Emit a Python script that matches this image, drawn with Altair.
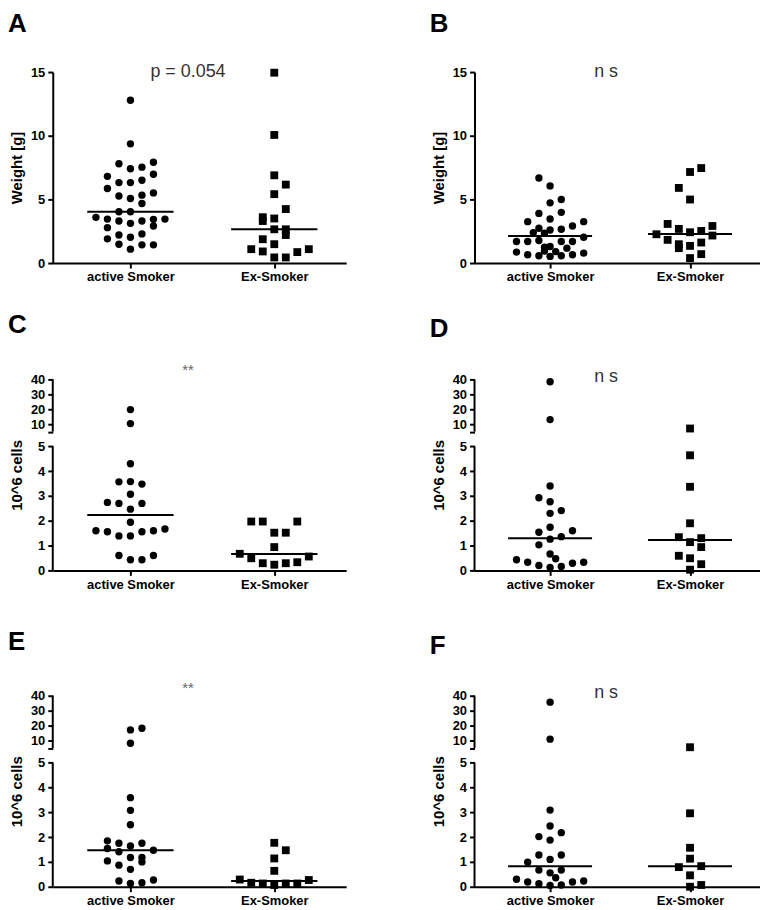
import altair as alt
import pandas as pd

# ---------------- data (slot = horizontal dot-plot column, value = y) ----------------
A_ACT_SLOT = [0, 0, -1, 0, 1, 2, -2, 2, -1, 0, 1, -2, -1, 0, 1, 2, 1, -1, 0, -3, -2, -1, 0, 1, 2, 3, -2, 2, -1, 0, 1, -2, -1, 1, 2, 0]
A_ACT_VAL = [12.79, 9.36, 7.8, 7.41, 7.53, 7.92, 6.81, 6.97, 6.32, 6.32, 6.5, 5.85, 5.27, 5.07, 5.33, 5.51, 4.68, 4.03, 4.03,
             3.59, 3.45, 3.30, 3.12, 3.30, 3.43, 3.45, 2.78, 2.91, 2.2, 2.03, 2.29, 1.9, 1.48, 1.43, 1.43, 1.09]
A_EX_SLOT = [0, 0, 0, 1, 0, 1, -1, -1, 0, 0, 1, 1, -1, 0, -2, -1, 2, 3, 0, 1]
A_EX_VAL = [14.95, 10.06, 6.89, 6.16, 5.41, 4.24, 3.6, 3.3, 3.5, 2.65, 2.65, 2.2, 1.87, 1.48, 1.09, 0.91, 0.86, 1.09, 0.44, 0.44]

B_ACT_SLOT = [-1, 0, 0, 1, -1, 1, -2, 0, 2, 3, -1.5, -1, 0, 1, -0.5, -3, -2, -1, 0, 1, 2, 3, -0.5, 1.5,
              -3, -2, -1, 0, 1, 2, 3, 0.5, -0.5]
B_ACT_VAL = [6.68, 6.06, 4.73, 4.99, 3.9, 3.98, 3.25, 3.46, 2.91, 3.25, 2.39, 2.73, 2.6, 2.65, 2.34, 1.69, 1.69, 1.77, 1.3, 1.69, 1.69, 2.03, 1.25, 1.17,
             0.86, 0.65, 0.57, 0.52, 0.57, 0.65, 0.78, 0.9, 0.95]
B_EX_SLOT = [1, 0, -1, 0, -2, -1, -3, 0, 1, 2, 2, -2, -1, -1, 0, 1, 1, 0]
B_EX_VAL = [7.46, 7.15, 5.9, 4.99, 3.07, 2.68, 2.26, 2.42, 2.52, 2.91, 2.16, 1.82, 1.48, 1.17, 1.35, 1.61, 0.7, 0.39]

C_ACT_SLOT = [0, 0, 0, -1, 0, 1, 0, -2, -1, 1, 0, 0, -3, -2, -1, 0, 1, 2, 3, -1, 0, 1, 2]
C_ACT_VAL = [19.8, 10.4, 4.30, 3.57, 3.58, 3.48, 3.07, 2.74, 2.70, 2.70, 2.47, 1.94, 1.6, 1.56, 1.39, 1.39, 1.56, 1.6, 1.67, 0.6, 0.43, 0.43, 0.6]
C_EX_SLOT = [-2, -1, 2, 0, 1, 0, -3, -2, 3, -1, 0, 1, 2]
C_EX_VAL = [1.97, 1.97, 1.97, 1.52, 1.52, 0.94, 0.67, 0.49, 0.56, 0.29, 0.23, 0.29, 0.33]

D_ACT_SLOT = [0, 0, 0, -1, 0, 0, 1, 0, -1, 2, 0, 1, -1, 0, -3, -2, -1, 0, 1, 0.5, 2, 3]
D_ACT_VAL = [38.4, 13.1, 3.40, 2.93, 2.77, 2.30, 2.41, 1.74, 1.54, 1.6, 1.26, 1.36, 1.03, 0.66, 0.43, 0.33, 0.2, 0.12, 0.16, 0.47, 0.29, 0.33]
D_EX_SLOT = [0, 0, 0, 0, -1, 0, 1, 1, -1, 0, 1, 0]
D_EX_VAL = [7.1, 4.64, 3.37, 1.90, 1.34, 1.14, 1.3, 0.94, 0.59, 0.49, 0.25, 0.03]

E_ACT_SLOT = [0, 1, 0, 0, 0, 0, -2, -1, 0, 1, -2, -1, 2, -2, 0, 1, 1, -1, 0, -1, 0, 1, 2]
E_ACT_VAL = [17.1, 18.2, 8.2, 3.59, 3.08, 2.50, 1.85, 1.75, 1.64, 1.75, 1.54, 1.41, 1.47, 1.04, 1.18, 1.18, 1.0, 0.87, 0.70, 0.23, 0.13, 0.16, 0.27]
E_EX_SLOT = [0, 1, 0, 0, -3, -2, -1, 0, 1, 2, 3]
E_EX_VAL = [1.77, 1.47, 1.14, 0.64, 0.29, 0.16, 0.13, 0.07, 0.13, 0.13, 0.27]

F_ACT_SLOT = [0, 0, 0, 0, -1, 1, 0, -1, 0, 1, -2, -1, 0, 1, 0.5, -3, -2, -1, 0, 1, 2, 3]
F_ACT_VAL = [35.7, 10.9, 3.09, 2.45, 2.02, 2.18, 1.88, 1.28, 1.1, 1.28, 0.99, 0.67, 0.56, 0.67, 0.36, 0.30, 0.19, 0.12, 0.05, 0.07, 0.19, 0.23]
F_EX_SLOT = [0, 0, 0, 0, -1, 1, 0, 0, 1]
F_EX_VAL = [5.5, 2.96, 1.57, 1.13, 0.79, 0.83, 0.46, 0.0, 0.07]

MEDIANS = {"A": [4.03, 2.65], "B": [2.13, 2.29], "C": [2.23, 0.66],
           "D": [1.30, 1.23], "E": [1.47, 0.23], "F": [0.83, 0.83]}
ANNOT = {"A": ("p = 0.054", 15.0), "B": ("n s", 15.0), "C": ("**", 46.0),
         "D": ("n s", 41.5), "E": ("**", 45.5), "F": ("n s", 41.5)}
GROUPS = ["active Smoker", "Ex-Smoker"]
Y_TITLES = {"A": "Weight [g]", "B": "Weight [g]", "C": "10^6 cells", "D": "10^6 cells", "E": "10^6 cells", "F": "10^6 cells"}

SLOT_W = 0.08
H = 192
FONT = "Liberation Sans"


def x_enc(field):
    return alt.X(f"{field}:Q",
                 scale=alt.Scale(domain=[0.46, 2.5], nice=False, zero=False),
                 axis=alt.Axis(values=[1, 2], title=None, grid=False,
                               labelExpr="datum.value == 1 ? 'active Smoker' : 'Ex-Smoker'"))


def y_enc(field, letter, broken):
    if broken:
        scale = alt.Scale(domain=[0, 5, 5.01, 40], range=[H, H - 124.7, H - 139.5, 0], nice=False, zero=False)
        axis = alt.Axis(values=[0, 1, 2, 3, 4, 5, 5.01, 10, 20, 30, 40], title=Y_TITLES[letter], grid=False,
                        domain=False, labelExpr="datum.value == 5.01 ? '' : datum.label", labelOverlap=False)
    else:
        scale = alt.Scale(domain=[0, 15], nice=False, zero=False)
        axis = alt.Axis(values=[0, 5, 10, 15], title=Y_TITLES[letter], grid=False)
    return alt.Y(f"{field}:Q", scale=scale, axis=axis)


def panel(letter, act_slot, act_val, ex_slot, ex_val, broken, width):
    df = pd.DataFrame({
        "grp": [1] * len(act_val) + [2] * len(ex_val),
        "slot": list(act_slot) + list(ex_slot),
        "value": list(act_val) + list(ex_val),
    })
    df["xpos"] = df["grp"] + df["slot"] * SLOT_W
    base = alt.Chart(df)
    circ = base.transform_filter("datum.grp == 1").mark_point(
        filled=True, shape="circle", size=55, color="black", opacity=1).encode(
        x=x_enc("xpos"), y=y_enc("value", letter, broken))
    sq = base.transform_filter("datum.grp == 2").mark_point(
        filled=True, shape="square", size=62, color="black", opacity=1).encode(
        x=x_enc("xpos"), y=y_enc("value", letter, broken))
    med_df = pd.DataFrame({"grp": [1, 2], "value": MEDIANS[letter]})
    med_df["xa"] = med_df["grp"] - 0.3
    med_df["xb"] = med_df["grp"] + 0.3
    med = alt.Chart(med_df).mark_rule(color="black", strokeWidth=2).encode(
        x=x_enc("xa"), x2="xb:Q", y=y_enc("value", letter, broken))
    label, ly = ANNOT[letter]
    ann_df = pd.DataFrame({"xpos": [1.4], "value": [ly], "label": [label]})
    star = label == "**"
    txt = alt.Chart(ann_df).mark_text(
        font=FONT, fontSize=15 if star else 18, color="#666" if star else "#333",
        align="center", baseline="middle").encode(
        x=x_enc("xpos"), y=y_enc("value", letter, broken), text="label:N")
    layers = [circ, sq, med, txt]
    if broken:
        seg_df = pd.DataFrame({"value": [0, 5.01], "value2": [5, 40]})
        seg = alt.Chart(seg_df).mark_rule(color="black", strokeWidth=2).encode(
            x=alt.value(0), y=y_enc("value", letter, broken), y2="value2:Q")
        layers.append(seg)
    return alt.layer(*layers).properties(
        width=width, height=H,
        title=alt.TitleParams(letter, anchor="start", frame="group", dx=-45, offset=26,
                              fontSize=26, fontWeight="bold", font=FONT, color="black"))


WL, WR = 295, 287
SP = 84
row1 = alt.hconcat(panel("A", A_ACT_SLOT, A_ACT_VAL, A_EX_SLOT, A_EX_VAL, False, WL),
                   panel("B", B_ACT_SLOT, B_ACT_VAL, B_EX_SLOT, B_EX_VAL, False, WR), spacing=SP)
row2 = alt.hconcat(panel("C", C_ACT_SLOT, C_ACT_VAL, C_EX_SLOT, C_EX_VAL, True, WL),
                   panel("D", D_ACT_SLOT, D_ACT_VAL, D_EX_SLOT, D_EX_VAL, True, WR), spacing=SP)
row3 = alt.hconcat(panel("E", E_ACT_SLOT, E_ACT_VAL, E_EX_SLOT, E_EX_VAL, True, WL),
                   panel("F", F_ACT_SLOT, F_ACT_VAL, F_EX_SLOT, F_EX_VAL, True, WR), spacing=SP)

chart = alt.vconcat(row1, alt.vconcat(row2, row3, spacing=37), spacing=27).properties(
    padding={"left": 0, "top": 1, "right": 0, "bottom": 0}
).configure_view(stroke=None).configure_axis(
    domainColor="black", domainWidth=2, tickColor="black", tickWidth=2, tickSize=5,
    labelFont=FONT, labelFontWeight="bold", labelFontSize=13, labelColor="black", labelPadding=3,
    titleFont=FONT, titleFontWeight="bold", titleFontSize=15, titleColor="black", titlePadding=6
).configure_concat(spacing=SP)

chart.save("out.html", embed_options={"renderer": "svg", "actions": False})
